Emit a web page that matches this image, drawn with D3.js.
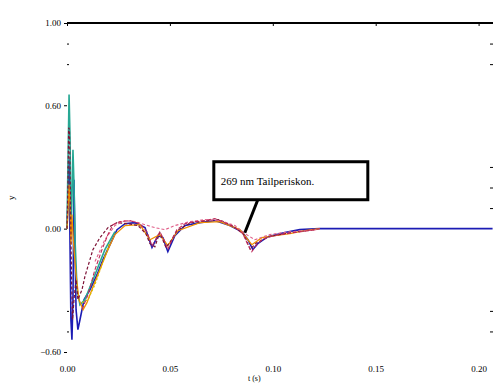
<!DOCTYPE html>
<html>
<head>
<meta charset="utf-8">
<script src="https://cdn.jsdelivr.net/npm/d3@7"></script>
<style>
  body { margin: 0; background: #fff; }
  svg { display: block; }
  .tick text { font-family: "Liberation Serif", serif; font-size: 9px; fill: #000; }
</style>
</head>
<body>
<svg id="chart"></svg>
<script>
// time values (s) and responses
const xTicks = [0, 0.05, 0.1, 0.15, 0.2];
const yTicks = [-0.6, 0, 0.6, 1.0];

const blueT = [0, 0.0005, 0.001, 0.0015, 0.0019, 0.0024, 0.0029, 0.0034, 0.0039, 0.0044, 0.0053, 0.0063, 0.0083, 0.0112, 0.0146, 0.0175, 0.0209, 0.0243, 0.0282, 0.0330, 0.0379, 0.0413, 0.0442, 0.0466, 0.0490, 0.0524, 0.0573, 0.0646, 0.0718, 0.0791, 0.0850, 0.0879, 0.0903, 0.0927, 0.0976, 0.1058, 0.1131, 0.1228, 0.2068];
const blueY = [0, 0.141, 0.336, -0.102, -0.443, -0.540, -0.345, 0.238, -0.102, -0.394, -0.491, -0.443, -0.345, -0.297, -0.224, -0.151, -0.078, -0.005, 0.024, 0.029, 0.005, -0.092, -0.034, -0.044, -0.112, -0.034, 0.015, 0.029, 0.039, 0.015, -0.015, -0.054, -0.102, -0.073, -0.039, -0.019, -0.005, 0, 0];

const tealT = [0, 0.0005, 0.001, 0.0015, 0.0019, 0.0024, 0.0029, 0.0034, 0.0039, 0.0049, 0.0063, 0.0087, 0.0136, 0.0184, 0.0233];
const tealY = [0, 0.336, 0.652, 0.433, 0, 0.141, 0.384, 0.214, -0.054, -0.297, -0.370, -0.345, -0.224, -0.102, -0.015];

const maroonT = [0, 0.0005, 0.0008, 0.0012, 0.0017, 0.0022, 0.0027, 0.0034, 0.0044, 0.0053, 0.0073, 0.0087, 0.0126, 0.0160, 0.0199, 0.0243, 0.0296, 0.0345, 0.0383, 0.0403, 0.0427, 0.0451, 0.0481, 0.0505, 0.0534, 0.0600, 0.0680, 0.0740, 0.0810, 0.0860, 0.0890, 0.0920, 0.0980, 0.1080, 0.1200];
const maroonY = [0, 0.238, 0.491, 0.482, 0.141, -0.248, -0.443, -0.345, -0.248, -0.345, -0.297, -0.233, -0.102, -0.044, 0.005, 0.029, 0.024, 0.015, -0.024, -0.073, -0.088, -0.019, -0.092, -0.060, -0.010, 0.029, 0.039, 0.044, 0.010, -0.030, -0.100, -0.070, -0.040, -0.020, -0.005];

const orangeT = [0, 0.0005, 0.001, 0.0015, 0.0019, 0.0024, 0.0029, 0.0034, 0.0044, 0.0058, 0.0078, 0.0097, 0.0121, 0.0160, 0.0199, 0.0233, 0.0282, 0.0354, 0.0403, 0.0451, 0.0490, 0.0539, 0.0646, 0.0743, 0.0840, 0.0898, 0.0947, 0.1010, 0.1083, 0.1155, 0.1228];
const orangeY = [0, 0.092, 0.214, 0.117, -0.078, 0.068, -0.029, -0.102, -0.224, -0.345, -0.394, -0.360, -0.297, -0.199, -0.102, -0.029, 0.015, 0.019, -0.054, -0.029, -0.083, -0.010, 0.029, 0.034, -0.005, -0.078, -0.044, -0.034, -0.024, -0.010, 0];

const yellowT = [0.0073, 0.0102, 0.0136, 0.0170, 0.0209];
const yellowY = [-0.360, -0.345, -0.272, -0.175, -0.063];

const pinkT = [0.0136, 0.0184, 0.0233, 0.0282, 0.0330, 0.0379, 0.0427, 0.0476, 0.0524, 0.0597, 0.0670, 0.0743, 0.0816, 0.0864, 0.0913, 0.0985, 0.1083, 0.1214];
const pinkY = [-0.160, -0.054, 0.015, 0.039, 0.034, 0.019, 0.005, -0.005, 0.015, 0.034, 0.044, 0.039, 0.015, -0.024, -0.054, -0.029, -0.015, -0.005];

const redT = [0.0073, 0.0102, 0.0136, 0.0170, 0.0199, 0.0223, 0.0257, 0.0306, 0.0354, 0.0388, 0.0413, 0.0437, 0.0451, 0.0471, 0.0490, 0.0510, 0.0534, 0.0573, 0.0621, 0.0670, 0.0718, 0.0767, 0.0816, 0.0854, 0.0879, 0.0898, 0.0917, 0.0947, 0.0985, 0.1034, 0.1107, 0.1180, 0.1228];
const redY = [-0.394, -0.321, -0.199, -0.102, -0.029, 0.019, 0.034, 0.039, 0.024, -0.015, -0.083, -0.044, -0.015, -0.054, -0.102, -0.054, -0.005, 0.024, 0.034, 0.039, 0.049, 0.029, 0.005, -0.024, -0.078, -0.112, -0.083, -0.054, -0.039, -0.029, -0.019, -0.010, 0];

const noteText = "269 nm Tailperiskon.";
const noteT = 0.0864;
const noteY = -0.02;

const width = 503, height = 383;
const margin = { top: 23, right: 10, bottom: 31, left: 67 };

const svg = d3.select("#chart").attr("width", width).attr("height", height);

const x = d3.scaleLinear().domain([0, 0.207]).range([margin.left, width - margin.right]);
const y = d3.scaleLinear().domain([-0.6, 1.0]).range([height - margin.bottom, margin.top]);

// axes
const gx = svg.append("g")
  .attr("transform", `translate(0,${height - margin.bottom + 4})`)
  .call(d3.axisBottom(x).tickValues(xTicks).tickFormat(d3.format(".2f")).tickSize(0).tickPadding(10));
gx.select(".domain").remove();

const gy = svg.append("g")
  .attr("transform", `translate(${margin.left},0)`)
  .call(d3.axisLeft(y).tickValues(yTicks).tickFormat(d3.format(".2f")).tickSize(3).tickPadding(3));
gy.select(".domain").remove();

// minor ticks inside the frame
const minor = [-0.5, -0.4, 0.1, 0.2, 0.3, 0.8, 0.9];
svg.append("g")
  .attr("transform", `translate(${margin.left},0)`)
  .call(d3.axisRight(y).tickValues(minor).tickSize(2).tickFormat(""))
  .select(".domain").remove();
svg.append("g")
  .attr("transform", `translate(${width - margin.right},0)`)
  .call(d3.axisLeft(y).tickValues(minor).tickSize(3).tickFormat(""))
  .select(".domain").remove();

const gTop = svg.append("g")
  .attr("transform", `translate(0,${margin.top})`)
  .call(d3.axisBottom(x).tickValues(xTicks).tickSize(3).tickFormat(""));
gTop.select(".domain").remove();
svg.append("line")
  .attr("x1", x(0)).attr("x2", x(0.207))
  .attr("y1", margin.top).attr("y2", margin.top)
  .attr("stroke", "#000").attr("stroke-width", 2);

// axis titles
svg.append("text")
  .attr("transform", `translate(14,${y(0.15)}) rotate(-90)`)
  .attr("text-anchor", "middle")
  .attr("font-family", "Liberation Serif, serif").attr("font-size", 9)
  .text("y");
svg.append("text")
  .attr("x", x(0.091)).attr("y", 381)
  .attr("text-anchor", "middle")
  .attr("font-family", "Liberation Serif, serif").attr("font-size", 8)
  .text("t (s)");

// series
const line = d3.line().x(d => x(d[0])).y(d => y(d[1]));
const series = [
  { t: blueT, v: blueY, color: "#1c1cb4", width: 1.6, dash: null },
  { t: tealT, v: tealY, color: "#27a894", width: 1.6, dash: null },
  { t: orangeT, v: orangeY, color: "#f09000", width: 1.3, dash: null },
  { t: maroonT, v: maroonY, color: "#7e1236", width: 1.2, dash: "3,2" },
  { t: yellowT, v: yellowY, color: "#d4c000", width: 1.2, dash: "2,2" },
  { t: pinkT, v: pinkY, color: "#e0608a", width: 1.1, dash: "3,2" },
  { t: redT, v: redY, color: "#c02a58", width: 1.1, dash: "4,2" }
];

svg.selectAll(".series")
  .data(series)
  .enter()
  .append("path")
  .attr("class", "series")
  .attr("fill", "none")
  .attr("stroke", d => d.color)
  .attr("stroke-width", d => d.width)
  .attr("stroke-dasharray", d => d.dash)
  .attr("d", d => line(d.t.map((t, i) => [t, d.v[i]])));

// annotation
const ax = x(noteT), ay = y(noteY);
const boxX = ax - 31, boxY = ay - 71, boxW = 154, boxH = 38;
svg.append("line")
  .attr("x1", ax).attr("y1", ay)
  .attr("x2", ax + 13).attr("y2", boxY + boxH)
  .attr("stroke", "#000").attr("stroke-width", 3);
svg.append("rect")
  .attr("x", boxX).attr("y", boxY)
  .attr("width", boxW).attr("height", boxH)
  .attr("fill", "#fff").attr("stroke", "#000").attr("stroke-width", 3);
svg.append("text")
  .attr("x", boxX + 7).attr("y", boxY + 23)
  .attr("font-family", "Liberation Serif, serif").attr("font-size", 11)
  .text(noteText);
</script>
</body>
</html>
